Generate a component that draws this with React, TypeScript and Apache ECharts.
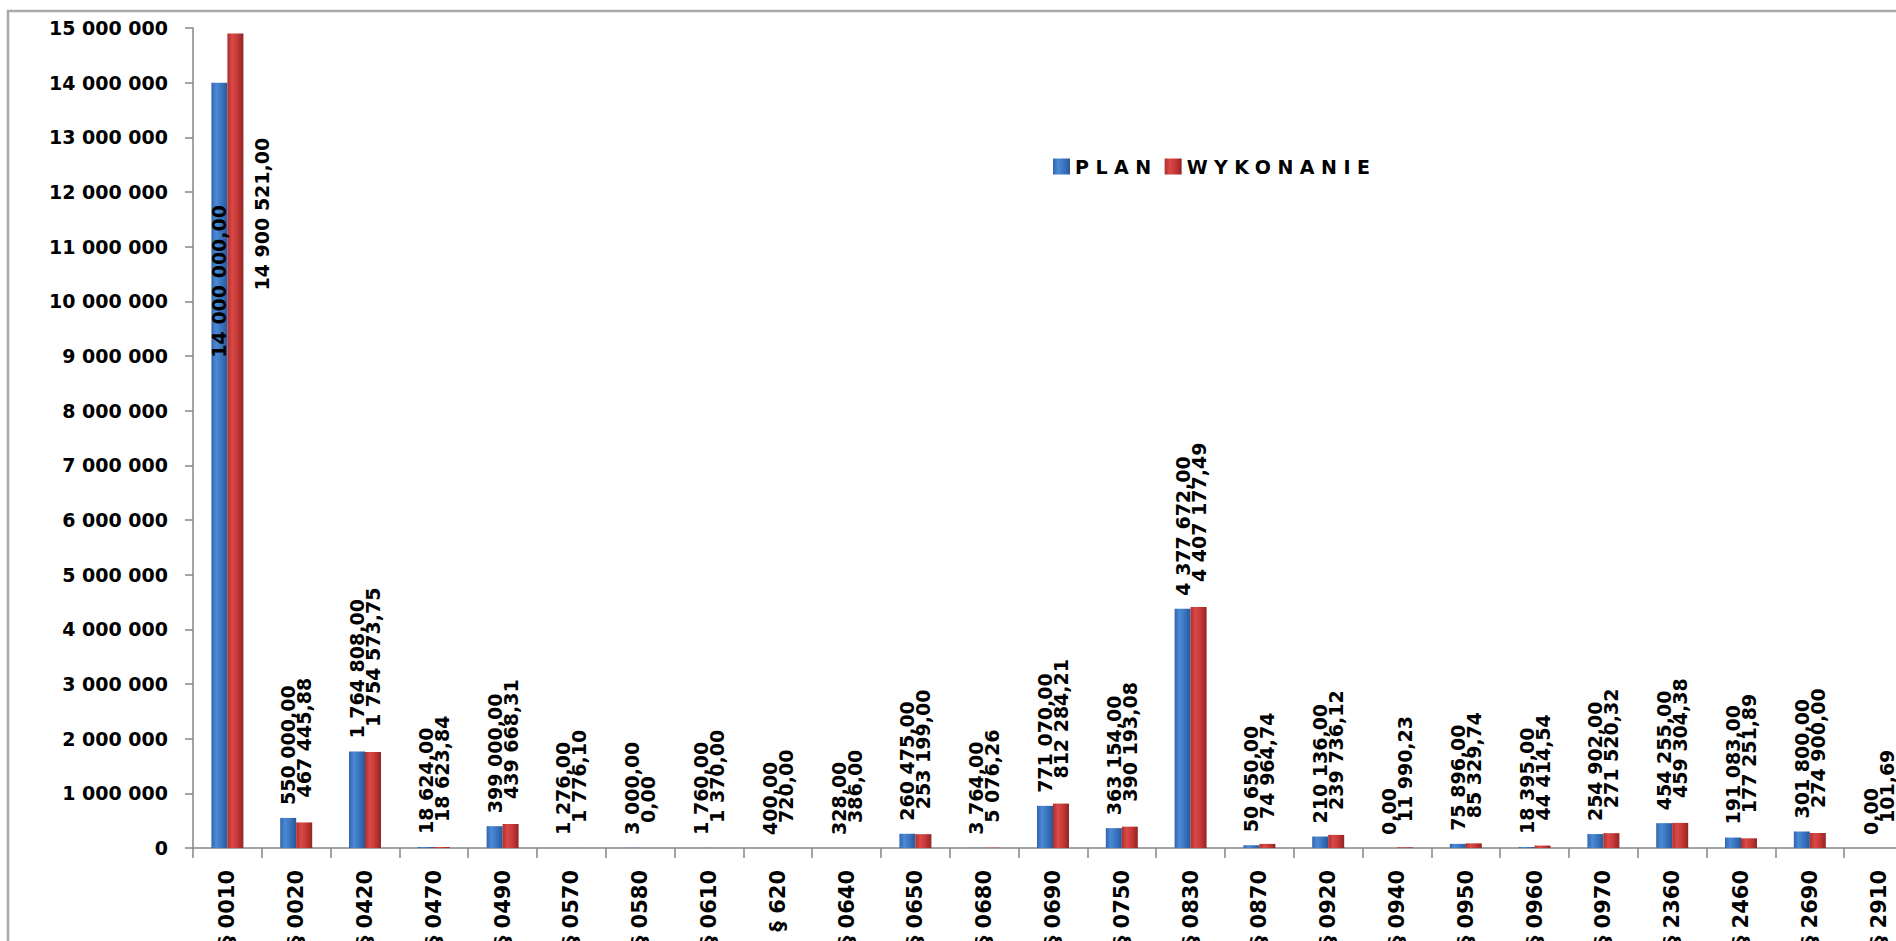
import React, { useEffect, useRef } from 'react';
import * as echarts from 'echarts';

const categories = [
  '§ 0010', '§ 0020', '§ 0420', '§ 0470', '§ 0490', '§ 0570', '§ 0580', '§ 0610', '§ 620',
  '§ 0640', '§ 0650', '§ 0680', '§ 0690', '§ 0750', '§ 0830', '§ 0870', '§ 0920', '§ 0940',
  '§ 0950', '§ 0960', '§ 0970', '§ 2360', '§ 2460', '§ 2690', '§ 2910',
];

const planValues = [
  14000000.0, 550000.0, 1764808.0, 18624.0, 399000.0, 1276.0, 3000.0, 1760.0, 400.0,
  328.0, 260475.0, 3764.0, 771070.0, 363154.0, 4377672.0, 50650.0, 210136.0, 0.0,
  75896.0, 18395.0, 254902.0, 454255.0, 191083.0, 301800.0, 0.0,
];

const wykonanieValues = [
  14900521.0, 467445.88, 1754573.75, 18623.84, 439668.31, 1776.1, 0.0, 1370.0, 720.0,
  386.0, 253199.0, 5076.26, 812284.21, 390193.08, 4407177.49, 74964.74, 239736.12, 11990.23,
  85329.74, 44414.54, 271520.32, 459304.38, 177251.89, 274900.0, 101.69,
];

const seriesNames = ['PLAN', 'WYKONANIE'];

const yMin = 0;
const yMax = 15000000;
const yInterval = 1000000;

const fmtPl = (v: number) => {
  const [i, d] = v.toFixed(2).split('.');
  return i.replace(/\B(?=(\d{3})+(?!\d))/g, ' ') + ',' + d;
};
const fmtAxis = (v: number) => String(v).replace(/\B(?=(\d{3})+(?!\d))/g, ' ');

const blueGrad = new echarts.graphic.LinearGradient(0, 0, 1, 0, [
  { offset: 0, color: '#3364ad' },
  { offset: 0.3, color: '#4b8ad6' },
  { offset: 0.6, color: '#3b76c2' },
  { offset: 1, color: '#2a5895' },
]);
const redGrad = new echarts.graphic.LinearGradient(0, 0, 1, 0, [
  { offset: 0, color: '#ad2e2e' },
  { offset: 0.3, color: '#d94a47' },
  { offset: 0.6, color: '#c73a38' },
  { offset: 1, color: '#922424' },
]);

const FONT = "'DejaVu Sans', Verdana, sans-serif";

export default function App() {
  const ref = useRef<HTMLDivElement>(null);

  useEffect(() => {
    if (!ref.current) return;
    const el = ref.current;
    const chart = echarts.init(el, undefined, { renderer: 'svg' });

    const labelBase = {
      show: true,
      position: 'top',
      distance: 16,
      rotate: 90,
      align: 'left',
      verticalAlign: 'middle',
      fontFamily: FONT,
      fontWeight: 'bold',
      fontSize: 19,
      color: '#000',
      formatter: (p: any) => fmtPl(Number(p.value)),
    };

    const planData = planValues.map((v, i) =>
      i === 0
        ? { value: v, label: { position: ['50%', 275], offset: [0, 0] } }
        : v
    );
    const wykData = wykonanieValues.map((v, i) =>
      i === 0
        ? { value: v, label: { position: [35, 257], offset: [0, 0] } }
        : v
    );

    chart.setOption({
      animation: false,
      backgroundColor: '#ffffff',
      graphic: [
        {
          type: 'rect',
          silent: true,
          z: -10,
          shape: { x: 8, y: 11, width: 2100, height: 1200 },
          style: { fill: 'none', stroke: '#a9a9a9', lineWidth: 2.5 },
        },
      ],
      legend: {
        data: seriesNames,
        left: 1053,
        top: 157,
        padding: 0,
        icon: 'rect',
        itemWidth: 17,
        itemHeight: 16,
        itemGap: 33,
        selectedMode: false,
        textStyle: { fontFamily: FONT, fontWeight: 'bold', fontSize: 19, color: '#000' },
      },
      grid: { left: 193, top: 28, right: 47, bottom: 152, containLabel: false },
      xAxis: {
        type: 'category',
        data: categories,
        axisLine: { show: true, lineStyle: { color: '#868686', width: 1.5 } },
        axisTick: { show: true, length: 10, lineStyle: { color: '#868686', width: 1.5 } },
        axisLabel: {
          rotate: 90,
          margin: 22,
          interval: 0,
          fontFamily: FONT,
          fontWeight: 'bold',
          fontSize: 21,
          color: '#000',
        },
        splitLine: { show: false },
      },
      yAxis: {
        type: 'value',
        min: yMin,
        max: yMax,
        interval: yInterval,
        axisLine: { show: true, lineStyle: { color: '#868686', width: 1.5 } },
        axisTick: { show: true, length: 8, lineStyle: { color: '#868686', width: 1.5 } },
        axisLabel: {
          margin: 25,
          fontFamily: FONT,
          fontWeight: 'bold',
          fontSize: 19,
          color: '#000',
          formatter: (v: number) => fmtAxis(v),
        },
        splitLine: { show: false },
      },
      series: [
        {
          name: seriesNames[0],
          type: 'bar',
          data: planData,
          barWidth: 16,
          barGap: '0%',
          itemStyle: { color: blueGrad },
          label: { ...labelBase, offset: [-3, 0] },
        },
        {
          name: seriesNames[1],
          type: 'bar',
          data: wykData,
          barWidth: 16,
          barGap: '0%',
          itemStyle: { color: redGrad },
          label: { ...labelBase, offset: [9, 0] },
        },
      ],
    });

    const applySpacing = () => {
      el.querySelectorAll('text').forEach((t) => {
        const s = (t.textContent || '').trim();
        if (s === 'PLAN' || s === 'WYKONANIE') {
          t.setAttribute('letter-spacing', '6.5');
        }
      });
    };
    applySpacing();
    chart.on('finished', applySpacing);
    const timer = setTimeout(applySpacing, 50);

    return () => {
      clearTimeout(timer);
      chart.dispose();
    };
  }, []);

  return (
    <div
      style={{
        position: 'fixed',
        left: 0,
        top: 0,
        width: 1896,
        height: 941,
        overflow: 'hidden',
        background: '#fff',
      }}
    >
      <div ref={ref} style={{ width: 1960, height: 1000 }} />
    </div>
  );
}
